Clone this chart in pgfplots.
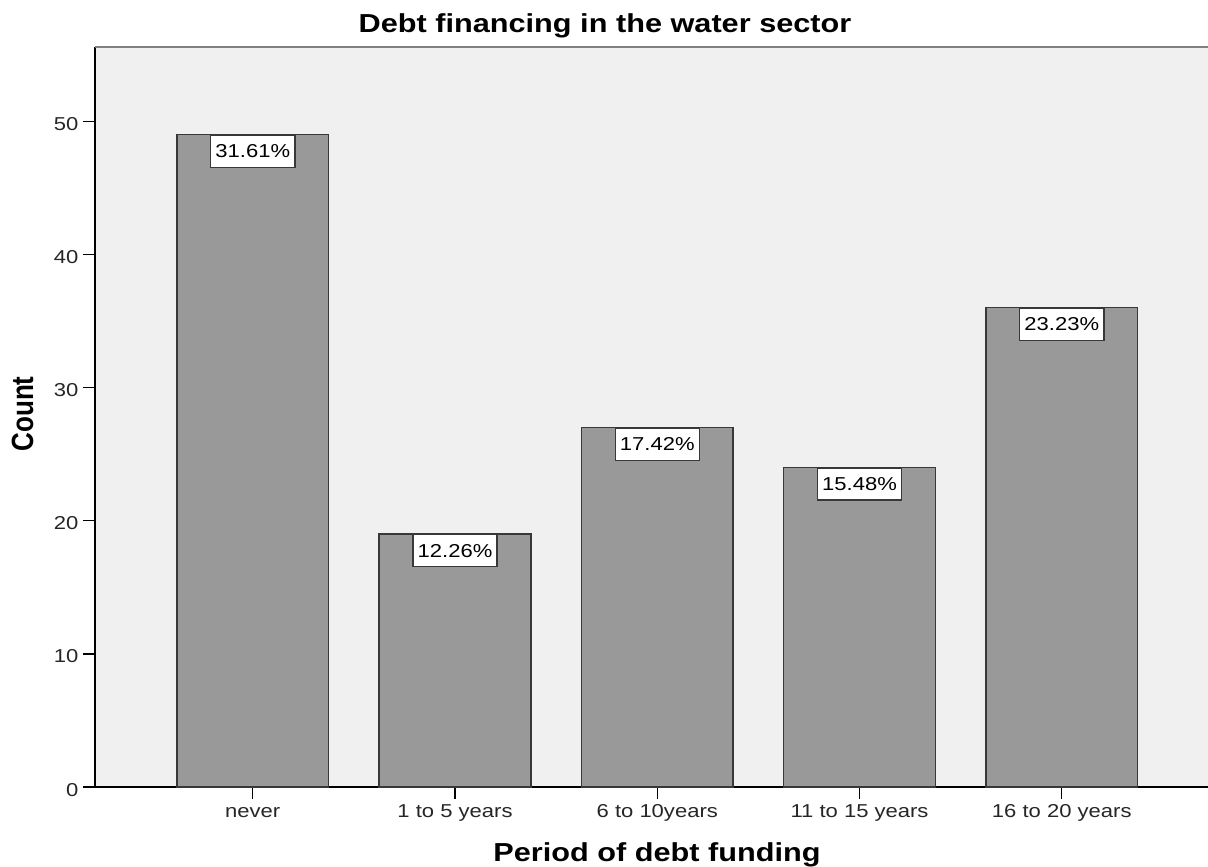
\documentclass[border=0pt]{standalone}
\usepackage{fontspec}
\usepackage{pgfplots}
\pgfplotsset{compat=1.18}
% Arial-metric sans, widened like the exported chart
\newfontfamily\spss[FakeStretch=1.18]{Liberation Sans}
\newfontfamily\spssplain{Liberation Sans}
\definecolor{plotbg}{HTML}{F0F0F0}
\definecolor{barfill}{HTML}{999999}
\definecolor{edge}{HTML}{383838}
\definecolor{frametop}{HTML}{808080}

\begin{document}
\begin{tikzpicture}
\useasboundingbox (0pt,0pt) rectangle (906pt,650.25pt);
\begin{axis}[
  at={(71.25pt,60pt)}, anchor=south west,
  scale only axis, width=843.4pt, height=555.2pt,
  xmin=-0.78, xmax=4.78, ymin=0, ymax=55.6,
  clip=false,
  axis background/.style={fill=plotbg},
  axis x line*=bottom, axis y line*=left,
  axis line style={-, draw=black, line width=1pt},
  tick align=outside,
  major tick length=9pt,
  tick style={black, line width=1pt},
  xtick={0,1,2,3,4},
  xticklabels={never, 1 to 5 years, 6 to 10years, 11 to 15 years, 16 to 20 years},
  ytick={0,10,20,30,40,50},
  /pgf/number format/assume math mode=true,
  ticklabel style={font=\spss\fontsize{14}{16}\selectfont, text=black!85},
  xticklabel style={text height=10pt, text depth=3pt, inner sep=1pt, yshift=-2.5pt},
  yticklabel style={yshift=-2pt},
  ybar, bar width=0.75,
]
\addplot[ybar, fill=barfill, draw=edge, line width=1.2pt,
  point meta=explicit symbolic,
  nodes near coords,
  every node near coord/.append style={anchor=north, fill=white, draw=edge,
    line width=1.1pt, font=\spss\fontsize{14}{16}\selectfont, text=black,
    inner xsep=3.5pt, inner ysep=0pt, minimum height=24pt}]
coordinates {(0,49) [31.61\%] (1,19) [12.26\%] (2,27) [17.42\%] (3,24) [15.48\%] (4,36) [23.23\%]};
% upper frame line of the plot area
\draw[frametop, line width=1.5pt] (rel axis cs:0,1) -- (rel axis cs:1,1);
\end{axis}
\node[anchor=base, inner sep=0pt, font=\spss\bfseries\fontsize{19.5}{22}\selectfont] at (453.75pt,625.75pt) {Debt financing in the water sector};
\node[anchor=base, inner sep=0pt, font=\spss\bfseries\fontsize{19.5}{22}\selectfont] at (492.75pt,3.75pt) {Period of debt funding};
\node[anchor=base, inner sep=0pt, rotate=90, font=\spssplain\bfseries\fontsize{19.5}{22}\selectfont] at (24.75pt,339.75pt) {\scalebox{1}[1.18]{Count}};
\end{tikzpicture}
\end{document}
